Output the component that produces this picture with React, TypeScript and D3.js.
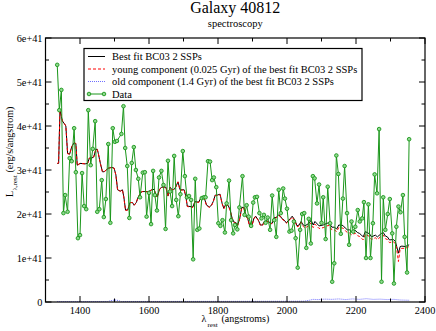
import React from "react";
import * as d3 from "d3";

// observed spectrum (luminosity in 1e41 erg/s/angstrom)
const dataLambda = [
  1334, 1340, 1346, 1352, 1357, 1364, 1370, 1376, 1383, 1388, 1394, 1400, 1406, 1412, 1418, 1424,
  1431, 1437, 1444, 1450, 1456, 1463, 1469, 1475, 1482, 1488, 1495, 1501, 1507, 1520, 1526, 1531,
  1537, 1543, 1550, 1556, 1562, 1569, 1574, 1582, 1588, 1593, 1600, 1606, 1612, 1617, 1623, 1629,
  1636, 1642, 1648, 1655, 1661, 1667, 1673, 1679, 1685, 1691, 1698, 1704, 1710, 1716, 1722, 1728,
  1734, 1740, 1746, 1753, 1759, 1764, 1771, 1777, 1783, 1788, 1795, 1801, 1807, 1813, 1820, 1825,
  1832, 1838, 1844, 1849, 1856, 1862, 1871, 1877, 1883, 1889, 1896, 1902, 1907, 1913, 1920, 1926,
  1933, 1938, 1944, 1951, 1957, 1963, 1969, 1976, 1982, 1989, 1994, 2000, 2007, 2013, 2020, 2025,
  2031, 2038, 2044, 2050, 2056, 2063, 2069, 2075, 2080, 2087, 2093, 2100, 2105, 2112, 2118, 2125,
  2131, 2137, 2143, 2149, 2156, 2162, 2167, 2174, 2180, 2187, 2192, 2198, 2205, 2211, 2218, 2223,
  2229, 2236, 2242, 2249, 2254, 2261, 2267, 2274, 2279, 2285, 2292, 2298, 2305, 2310, 2317, 2323,
  2329, 2336, 2341, 2348, 2354,
];
const dataFlux = [
  5.39, 4.36, 4.82, 2.02, 2.43, 2.05, 3.27, 3.2, 3.95, 2.95, 1.45, 1.52, 2.93, 2.18, 2.11, 4.36,
  3.11, 3.48, 4.11, 2.05, 2.11, 2.77, 1.93, 2.34, 3.59, 1.8, 3.95, 3.64, 3.66, 3.82, 4.45, 3.5,
  3.09, 1.91, 3.16, 3.52, 3.0, 2.8, 2.38, 2.94, 2.95, 1.94, 2.48, 1.77, 2.98, 2.43, 2.08, 2.83,
  2.98, 2.66, 1.66, 3.21, 2.51, 2.18, 3.32, 2.32, 1.95, 2.45, 3.43, 2.86, 2.38, 2.41, 2.32, 0.97,
  2.8, 1.64, 1.67, 2.36, 2.38, 2.38, 3.2, 3.19, 2.77, 2.83, 2.61, 1.79, 1.73, 1.86, 1.58, 2.24,
  2.76, 1.86, 1.56, 1.75, 1.65, 2.15, 2.86, 1.98, 2.2, 1.94, 1.73, 2.26, 2.38, 2.39, 2.02, 1.9,
  1.98, 1.8, 1.92, 1.64, 2.42, 1.86, 1.48, 2.55, 2.02, 2.58, 2.35, 2.12, 1.6, 1.62, 1.83, 1.45,
  0.78, 1.64, 2.0, 2.02, 1.23, 1.89, 1.33, 2.86, 2.81, 2.24, 2.67, 1.8, 2.38, 1.43, 2.62, 1.79,
  0.46, 0.88, 3.33, 2.91, 1.55, 2.35, 3.09, 2.02, 1.3, 1.83, 1.6, 1.71, 2.09, 1.83, 1.9, 2.27,
  1.0, 2.22, 1.0, 1.79, 2.9, 2.47, 3.93, 0.46, 2.38, 1.64, 2.0, 2.34, 1.56, 0.42, 1.71, 2.17,
  2.04, 2.43, 1.48, 0.67, 3.7,
];

// best fit model and its young component
const modelLambda = [
  1334, 1338, 1342, 1349, 1355, 1359, 1364, 1370, 1376, 1383, 1388, 1392, 1400, 1415, 1422, 1427,
  1434, 1440, 1446, 1450, 1453, 1459, 1465, 1470, 1482, 1492, 1499, 1504, 1509, 1517, 1523, 1527,
  1532, 1538, 1545, 1552, 1557, 1563, 1569, 1579, 1588, 1598, 1608, 1615, 1620, 1624, 1630, 1636,
  1649, 1655, 1661, 1667, 1673, 1678, 1684, 1690, 1702, 1707, 1711, 1727, 1733, 1744, 1750, 1756,
  1762, 1767, 1775, 1781, 1786, 1792, 1798, 1806, 1812, 1817, 1823, 1829, 1835, 1841, 1846, 1854,
  1857, 1863, 1869, 1875, 1880, 1886, 1892, 1898, 1904, 1909, 1917, 1923, 1929, 1934, 1946, 1952,
  1957, 1963, 1969, 1975, 1981, 1986, 1992, 1998, 2010, 2015, 2023, 2029, 2035, 2041, 2047, 2052,
  2064, 2070, 2076, 2081, 2093, 2105, 2116, 2122, 2130, 2137, 2144, 2150, 2162, 2169, 2175, 2181,
  2187, 2198, 2204, 2210, 2216, 2221, 2227, 2239, 2245, 2256, 2262, 2274, 2279, 2285, 2291, 2297,
  2308, 2314, 2318, 2323, 2328, 2333, 2343, 2354,
];
const bestFit = [
  3.15, 3.15, 4.36, 4.11, 4.05, 4.0, 3.38, 3.36, 3.53, 3.62, 3.6, 3.11, 3.15, 3.14, 3.15, 3.27,
  3.27, 3.3, 3.47, 3.47, 3.38, 3.15, 2.96, 2.96, 3.04, 3.06, 3.04, 2.89, 2.55, 2.52, 2.55, 2.39,
  2.09, 2.09, 2.26, 2.26, 2.2, 2.26, 2.39, 2.51, 2.51, 2.51, 2.55, 2.56, 2.43, 2.39, 2.55, 2.61,
  2.61, 2.41, 2.61, 2.55, 2.56, 2.62, 2.73, 2.55, 2.55, 2.39, 2.18, 2.16, 2.28, 2.27, 2.36, 2.41,
  2.32, 2.2, 2.16, 2.2, 2.28, 2.43, 2.43, 2.45, 2.24, 2.13, 2.23, 2.2, 2.1, 1.9, 1.82, 1.79,
  1.75, 1.9, 2.15, 2.15, 1.98, 1.9, 1.73, 1.73, 1.9, 1.95, 1.86, 1.75, 1.75, 1.83, 1.84, 1.79,
  1.79, 1.92, 1.92, 1.98, 1.95, 1.89, 1.86, 1.8, 1.9, 1.95, 1.86, 1.73, 1.75, 1.83, 1.75, 1.73,
  1.79, 1.86, 1.75, 1.83, 1.73, 1.75, 1.79, 1.8, 1.7, 1.7, 1.66, 1.75, 1.74, 1.68, 1.64, 1.64,
  1.6, 1.63, 1.58, 1.56, 1.52, 1.48, 1.6, 1.55, 1.48, 1.52, 1.48, 1.56, 1.58, 1.5, 1.48, 1.41,
  1.42, 1.38, 1.26, 1.11, 1.26, 1.27, 1.26, 1.3,
];
const youngComp = [
  3.15, 3.16, 4.38, 4.12, 4.05, 4.0, 3.37, 3.36, 3.53, 3.62, 3.6, 3.1, 3.15, 3.14, 3.15, 3.27,
  3.27, 3.3, 3.47, 3.47, 3.38, 3.15, 2.96, 2.96, 3.04, 3.06, 3.04, 2.88, 2.54, 2.52, 2.55, 2.38,
  2.08, 2.09, 2.26, 2.26, 2.2, 2.26, 2.39, 2.51, 2.51, 2.5, 2.55, 2.56, 2.42, 2.38, 2.55, 2.61,
  2.61, 2.4, 2.61, 2.55, 2.56, 2.62, 2.73, 2.54, 2.55, 2.38, 2.17, 2.15, 2.27, 2.26, 2.35, 2.4,
  2.31, 2.19, 2.15, 2.19, 2.27, 2.42, 2.42, 2.44, 2.23, 2.12, 2.22, 2.19, 2.09, 1.89, 1.81, 1.78,
  1.74, 1.89, 2.14, 2.14, 1.97, 1.89, 1.72, 1.72, 1.89, 1.94, 1.85, 1.74, 1.74, 1.82, 1.83, 1.78,
  1.78, 1.91, 1.91, 1.97, 1.94, 1.88, 1.85, 1.79, 1.88, 1.93, 1.84, 1.71, 1.73, 1.81, 1.72, 1.68,
  1.74, 1.8, 1.69, 1.77, 1.67, 1.69, 1.73, 1.74, 1.64, 1.64, 1.6, 1.69, 1.68, 1.62, 1.58, 1.57,
  1.53, 1.56, 1.51, 1.49, 1.45, 1.41, 1.54, 1.49, 1.42, 1.46, 1.42, 1.5, 1.52, 1.44, 1.42, 1.35,
  1.37, 1.33, 1.2, 0.92, 1.21, 1.22, 1.22, 1.26,
];

// old component
const oldLambda = [
  1334, 1400, 1480, 1495, 1505, 1520, 1600, 1700, 1800, 1900, 2000, 2050, 2065, 2075, 2090, 2110,
  2130, 2150, 2170, 2190, 2210, 2230, 2250, 2270, 2290, 2310, 2330, 2354,
];
const oldComp = [
  0.01, 0.01, 0.012, 0.04, 0.045, 0.012, 0.012, 0.013, 0.014, 0.015, 0.016, 0.018, 0.04, 0.06,
  0.055, 0.065, 0.06, 0.07, 0.055, 0.07, 0.06, 0.075, 0.06, 0.065, 0.055, 0.06, 0.045, 0.04,
];

const yTicks = [0, 1, 2, 3, 4, 5, 6];
const xTicks = [1400, 1600, 1800, 2000, 2200, 2400];

const legendItems = [
  "Best fit BC03 2 SSPs",
  "young component (0.025 Gyr) of the best fit BC03 2 SSPs",
  "old component (1.4 Gyr) of the best fit BC03 2 SSPs",
  "Data",
];

const serif = "'Liberation Serif', 'Times New Roman', serif";
const green = "#1a961a";

const App = () => {
  const width = 436;
  const height = 331;
  const left = 45.5;
  const right = 425;
  const top = 38;
  const bottom = 302;

  const x = d3.scaleLinear().domain([1300, 2400]).range([left, right]);
  const y = d3.scaleLinear().domain([0, 6]).range([bottom, top]);

  const line = (xs: number[], ys: number[]) =>
    d3
      .line<number>()
      .x((d, i) => x(xs[i]))
      .y(d => y(d))(ys);

  const xMinor = d3.range(1300, 2401, 100);
  const yMinor = d3.range(0, 6.01, 0.5);

  return (
    <svg
      width={width}
      height={height}
      style={{ position: "absolute", left: 0, top: 0, background: "#fff" }}
      fontFamily={serif}
    >
      <text x={(left + right) / 2} y={13} textAnchor="middle" fontSize={16}>
        Galaxy 40812
      </text>
      <text x={(left + right) / 2} y={27} textAnchor="middle" fontSize={10.5}>
        spectroscopy
      </text>

      <clipPath id="plot">
        <rect x={left} y={top} width={right - left} height={bottom - top} />
      </clipPath>

      <g clipPath="url(#plot)">
        <path d={line(modelLambda, bestFit) || ""} fill="none" stroke="#000" strokeWidth={1} />
        <path
          d={line(modelLambda, youngComp) || ""}
          fill="none"
          stroke="#ff0000"
          strokeWidth={1}
          strokeDasharray="3,2"
        />
        <path
          d={line(oldLambda, oldComp) || ""}
          fill="none"
          stroke="#6f6fff"
          strokeWidth={1}
          strokeDasharray="1,1"
        />
        <path d={line(dataLambda, dataFlux) || ""} fill="none" stroke={green} strokeWidth={1} />
        {dataFlux.map((d, i) => (
          <circle key={i} cx={x(dataLambda[i])} cy={y(d)} r={1.8} fill="#8fd88f" stroke={green} strokeWidth={0.9} />
        ))}
      </g>

      {/* frame and ticks */}
      <rect x={left} y={top} width={right - left} height={bottom - top} fill="none" stroke="#000" strokeWidth={1.2} />
      {xMinor.map(t => {
        const len = t % 200 === 0 ? 6 : 3.5;
        return (
          <g key={t} stroke="#000" strokeWidth={1}>
            <line x1={x(t)} x2={x(t)} y1={bottom} y2={bottom - len} />
            <line x1={x(t)} x2={x(t)} y1={top} y2={top + len} />
          </g>
        );
      })}
      {yMinor.map(t => {
        const len = Number.isInteger(t) ? 6 : 3.5;
        return (
          <g key={t} stroke="#000" strokeWidth={1}>
            <line x1={left} x2={left + len} y1={y(t)} y2={y(t)} />
            <line x1={right} x2={right - len} y1={y(t)} y2={y(t)} />
          </g>
        );
      })}
      {xTicks.map(t => (
        <text key={t} x={x(t)} y={bottom + 12} textAnchor="middle" fontSize={10.3}>
          {t}
        </text>
      ))}
      {yTicks.map(t => (
        <text key={t} x={left - 3} y={y(t) + 3.5} textAnchor="end" fontSize={10.3}>
          {t === 0 ? "0" : `${t}e+41`}
        </text>
      ))}

      {/* x axis title */}
      <g fontSize={10}>
        <text x={201.5} y={322}>λ</text>
        <text x={207.5} y={326.5} fontSize={7}>rest</text>
        <text x={221.5} y={322}>(angstroms)</text>
      </g>
      {/* y axis title */}
      <g transform="translate(13,197) rotate(-90)" fontSize={10}>
        <text x={0} y={0}>L</text>
        <text x={6.5} y={3.5} fontSize={7}>λ,rest</text>
        <text x={24.5} y={0}>(erg/s/angstrom)</text>
      </g>

      {/* legend */}
      <g>
        <rect x={84} y={48.5} width={278} height={52} fill="#fff" stroke="#000" strokeWidth={1.2} />
        {legendItems.map((label, i) => {
          const ly = 56.5 + i * 12.5;
          return (
            <g key={label}>
              {i === 0 && <line x1={88} x2={105} y1={ly} y2={ly} stroke="#000" strokeWidth={1} />}
              {i === 1 && (
                <line x1={88} x2={105} y1={ly} y2={ly} stroke="#ff0000" strokeWidth={1} strokeDasharray="3,2" />
              )}
              {i === 2 && (
                <line x1={88} x2={105} y1={ly} y2={ly} stroke="#6f6fff" strokeWidth={1} strokeDasharray="1,1" />
              )}
              {i === 3 && (
                <g>
                  <line x1={89} x2={104} y1={ly} y2={ly} stroke={green} strokeWidth={1} />
                  <circle cx={89} cy={ly} r={1.8} fill="#8fd88f" stroke={green} strokeWidth={0.9} />
                  <circle cx={104} cy={ly} r={1.8} fill="#8fd88f" stroke={green} strokeWidth={0.9} />
                </g>
              )}
              <text x={112} y={ly + 3.5} fontSize={10.5}>
                {label}
              </text>
            </g>
          );
        })}
      </g>
    </svg>
  );
};

export default App;
